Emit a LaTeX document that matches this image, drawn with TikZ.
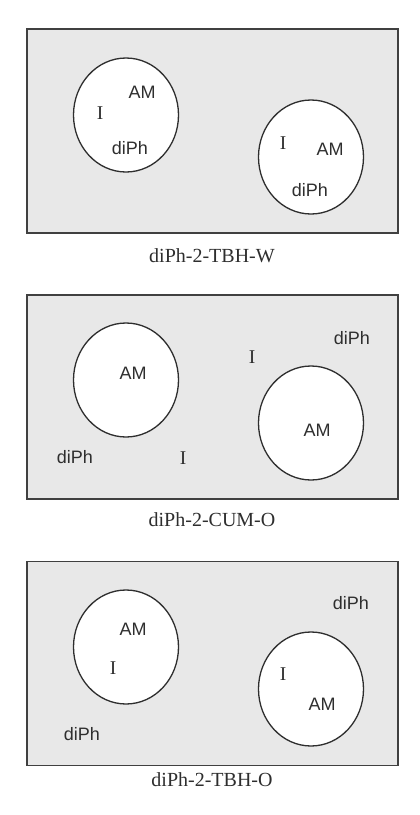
\documentclass[tikz,border=0pt]{standalone}
\usepackage{fontspec}
\setmainfont{Liberation Serif}
\setsansfont{Liberation Sans}
\usetikzlibrary{shapes.geometric}
\definecolor{panelgray}{HTML}{E8E8E8}
\definecolor{edgegray}{HTML}{404040}
\definecolor{inkgray}{HTML}{2E2E2E}
\begin{document}
\begin{tikzpicture}[x=1pt,y=-1pt,
  panel/.style={draw=edgegray,line width=1.8pt,fill=panelgray,rectangle,minimum width=371pt,minimum height=204pt,inner sep=0pt},
  cell/.style={draw=inkgray,line width=1.3pt,fill=white,ellipse,minimum width=105pt,minimum height=114pt,inner sep=0pt},
  lab/.style={anchor=base,font=\sffamily\fontsize{18}{20}\selectfont,text=inkgray,inner sep=0pt},
  ion/.style={anchor=base,font=\rmfamily\fontsize{19.5}{22}\selectfont,text=inkgray,inner sep=0pt},
  captext/.style={anchor=base,font=\rmfamily\fontsize{20}{22}\selectfont,text=inkgray,inner sep=0pt}]
\path[fill=white] (0,0) rectangle (420,815);
\useasboundingbox (0,0) rectangle (420,815);
% Panel 1
\node[panel] (p1) at (212.5,131) {};
\node[cell] (p1a) at (126,115) {};
\node[cell] (p1b) at (311,157) {};
\node[lab] (p1am1) at (142,98) {AM};
\node[ion] (p1i1) at (100,119) {I};
\node[lab] (p1d1) at (130,154) {diPh};
\node[ion] (p1i2) at (283,149) {I};
\node[lab] (p1am2) at (330,155) {AM};
\node[lab] (p1d2) at (310,196) {diPh};
\node[captext] (c1) at (212,262) {diPh-2-TBH-W};
% Panel 2
\node[panel] (p2) at (212.5,397) {};
\node[cell] (p2a) at (126,380) {};
\node[cell] (p2b) at (311,423) {};
\node[lab] (p2d1) at (352,344) {diPh};
\node[ion] (p2i1) at (252,363) {I};
\node[lab] (p2am1) at (133,379) {AM};
\node[lab] (p2am2) at (317,436) {AM};
\node[lab] (p2d2) at (75,463) {diPh};
\node[ion] (p2i2) at (183,464) {I};
\node[captext] (c2) at (212,526) {diPh-2-CUM-O};
% Panel 3
\node[panel] (p3) at (212.5,663.5) {};
\node[cell] (p3a) at (126,647) {};
\node[cell] (p3b) at (311,689) {};
\node[lab] (p3d1) at (351,609) {diPh};
\node[lab] (p3am1) at (133,635) {AM};
\node[ion] (p3i1) at (113,674) {I};
\node[ion] (p3i2) at (283,680) {I};
\node[lab] (p3am2) at (322,710) {AM};
\node[lab] (p3d2) at (82,740) {diPh};
\node[captext] (c3) at (212,786) {diPh-2-TBH-O};
\end{tikzpicture}
\end{document}
